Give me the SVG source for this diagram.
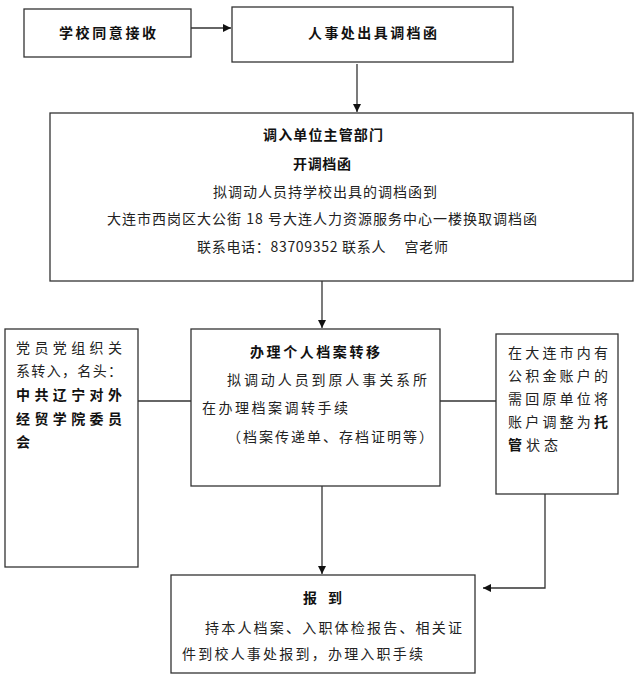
<svg xmlns="http://www.w3.org/2000/svg" width="640" height="678" viewBox="0 0 640 678">
<style>
.box{fill:#fff;stroke:#333;stroke-width:1.3}
.t{font-family:"Noto Sans CJK SC","Liberation Sans",sans-serif;font-size:14px;fill:#222}
.b{font-weight:bold;fill:#111}
.c{text-anchor:middle}
.ln{fill:none;stroke:#333;stroke-width:1.3}
</style>
<defs>
<marker id="ah" markerUnits="userSpaceOnUse" markerWidth="9" markerHeight="9" refX="8" refY="4" orient="auto">
<path d="M0,0 L8,4 L0,8 z" fill="#111"/>
</marker>
</defs>
<rect width="640" height="678" fill="#fff"/>
<g id="connectors">
<line class="ln" x1="191" y1="28" x2="231" y2="28" marker-end="url(#ah)"/>
<line class="ln" x1="357" y1="64" x2="357" y2="112" marker-end="url(#ah)"/>
<line class="ln" x1="322" y1="281" x2="322" y2="328" marker-end="url(#ah)"/>
<line class="ln" x1="138" y1="401" x2="191" y2="401"/>
<line class="ln" x1="440" y1="401" x2="496" y2="401"/>
<line class="ln" x1="322" y1="486" x2="322" y2="574" marker-end="url(#ah)"/>
<polyline class="ln" points="545,494 545,588 483,588" marker-end="url(#ah)"/>
</g>
<g id="n1">
<rect class="box" x="24" y="9" width="167" height="48"/>
<text class="t b c" x="107.5" y="38" textLength="97" lengthAdjust="spacing">学校同意接收</text>
</g>
<g id="n2">
<rect class="box" x="232" y="7" width="281" height="55"/>
<text class="t b c" x="372.5" y="38" textLength="129" lengthAdjust="spacing">人事处出具调档函</text>
</g>
<g id="n3">
<rect class="box" x="50" y="113" width="583" height="168"/>
<text class="t b c" x="323" y="140" textLength="120" lengthAdjust="spacing">调入单位主管部门</text>
<text class="t b c" x="322" y="169" textLength="58" lengthAdjust="spacing">开调档函</text>
<text class="t" x="213" y="197" textLength="224" lengthAdjust="spacing">拟调动人员持学校出具的调档函到</text>
<text class="t" x="107" y="224" textLength="430" lengthAdjust="spacing">大连市西岗区大公街 18 号大连人力资源服务中心一楼换取调档函</text>
<text class="t" x="197" y="252" textLength="251" lengthAdjust="spacing">联系电话：83709352 联系人　  宫老师</text>
</g>
<g id="n4">
<rect class="box" x="5" y="329" width="133" height="238"/>
<text class="t" x="16" y="353" textLength="106" lengthAdjust="spacing">党员党组织关</text>
<text class="t" x="16" y="376" textLength="106" lengthAdjust="spacing">系转入，名头：</text>
<text class="t b" x="16" y="400" textLength="106" lengthAdjust="spacing">中共辽宁对外</text>
<text class="t b" x="16" y="424" textLength="106" lengthAdjust="spacing">经贸学院委员</text>
<text class="t b" x="16" y="447">会</text>
</g>
<g id="n5">
<rect class="box" x="191" y="329" width="249" height="157"/>
<text class="t b c" x="315" y="357" textLength="130" lengthAdjust="spacing">办理个人档案转移</text>
<text class="t" x="227" y="385" textLength="200" lengthAdjust="spacing">拟调动人员到原人事关系所</text>
<text class="t" x="202" y="413" textLength="146" lengthAdjust="spacing">在办理档案调转手续</text>
<text class="t" x="227" y="442" textLength="206" lengthAdjust="spacing">（档案传递单、存档证明等）</text>
</g>
<g id="n6">
<rect class="box" x="496" y="334" width="122" height="160"/>
<text class="t" x="508" y="358" textLength="100" lengthAdjust="spacing">在大连市内有</text>
<text class="t" x="508" y="381" textLength="100" lengthAdjust="spacing">公积金账户的</text>
<text class="t" x="508" y="404" textLength="100" lengthAdjust="spacing">需回原单位将</text>
<text class="t" x="508" y="427" textLength="100" lengthAdjust="spacing">账户调整为<tspan class="b">托</tspan></text>
<text class="t" x="508" y="450" textLength="50" lengthAdjust="spacing"><tspan class="b">管</tspan>状态</text>
</g>
<g id="n7">
<rect class="box" x="171" y="575" width="304" height="98"/>
<text class="t b" x="303" y="603" textLength="39" lengthAdjust="spacing">报 到</text>
<text class="t" x="205" y="633" textLength="257" lengthAdjust="spacing">持本人档案、入职体检报告、相关证</text>
<text class="t" x="182" y="659" textLength="241" lengthAdjust="spacing">件到校人事处报到，办理入职手续</text>
</g>
</svg>
